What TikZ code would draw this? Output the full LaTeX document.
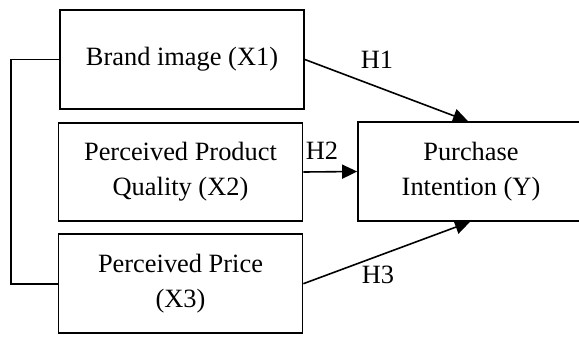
\documentclass[tikz,border=0pt]{standalone}
\usepackage{fontspec}
\setmainfont{Liberation Serif}
\usetikzlibrary{arrows.meta}
\begin{document}
\begin{tikzpicture}[x=1bp,y=-1bp,
  every node/.style={font=\fontsize{26.4bp}{35bp}\selectfont},
  box/.style={draw,line width=1.7bp,align=center,inner sep=0pt},
  conn/.style={line width=1.6bp},
  arr/.style={conn,-{Triangle[length=15bp,width=14bp]}},
  lbl/.style={inner sep=0pt}]
\useasboundingbox (0,0) rectangle (579,336);
\node[box,minimum width=244bp,minimum height=99bp] (x1) at (182,59.5) {Brand image (X1)};
\node[box,minimum width=244bp,minimum height=98bp] (x2) at (180.5,172) {Perceived Product\\Quality (X2)};
\node[box,minimum width=244bp,minimum height=99bp] (x3) at (180.5,283.7) {Perceived Price\\(X3)};
\node[box,minimum width=226bp,minimum height=99bp] (y) at (471,171.5) {Purchase\\Intention (Y)};
\coordinate (lt) at (11,59.5);
\draw[conn] (x1.west) -- (lt) |- (x3.west);
\draw[arr] (x1.east) -- ([xshift=-3bp]y.north);
\draw[arr] (x2.east) -- (y.west);
\draw[arr] (x3.east) -- ([xshift=-1bp]y.south);
\node[lbl] (h1) at (377,60) {H1};
\node[lbl] (h2) at (322,151) {H2};
\node[lbl] (h3) at (378,275) {H3};
\end{tikzpicture}
\end{document}
